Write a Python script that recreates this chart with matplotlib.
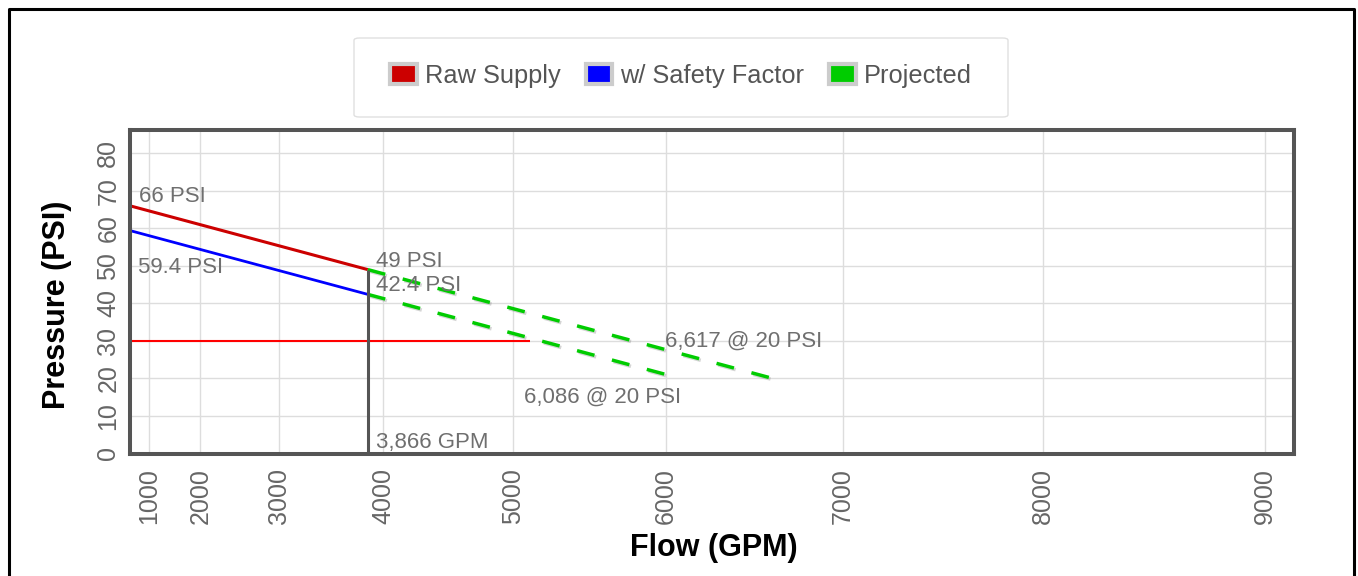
import numpy as np
import matplotlib
matplotlib.use("Agg")
import matplotlib.pyplot as plt
from matplotlib.patches import Patch, FancyBboxPatch
from matplotlib.lines import Line2D
import matplotlib.patheffects as pe

plt.rcParams['font.family'] = ['Liberation Sans', 'DejaVu Sans']

# Data
test_flow = [0, 3866]
raw_supply = [66, 49]
safety_supply = [59.4, 42.4]
proj_raw_flow = [3866, 6617]
proj_raw_psi = [49, 20]
proj_safe_flow = [3866, 6086]
proj_safe_psi = [42.4, 20]
demand_flow = [0, 5120]
demand_psi = [30, 30]
x_ticks = [1000, 2000, 3000, 4000, 5000, 6000, 7000, 8000, 9000]
y_ticks = [0, 10, 20, 30, 40, 50, 60, 70, 80]

# N^1.85 hydraulic scale
def fwd(q):
    q = np.asarray(q, dtype=float)
    return np.sign(q) * np.abs(q) ** 1.85

def inv(v):
    v = np.asarray(v, dtype=float)
    return np.sign(v) * np.abs(v) ** (1 / 1.85)

W, H = 1358, 576
fig = plt.figure(figsize=(W / 100, H / 100), dpi=100)
ax = fig.add_axes([130 / W, 1 - 453.5 / H, (1293.5 - 130) / W, (453.5 - 130) / H])
ax.set_xscale('function', functions=(fwd, inv))
ax.set_xlim(0, 9120)
ax.set_ylim(0, 86.2)

ax.grid(True, color='#dddddd', lw=1.0)
ax.set_axisbelow(True)
for s in ax.spines.values():
    s.set_color('#555555')
    s.set_linewidth(2.9)

ax.set_xticks(x_ticks)
ax.set_yticks(y_ticks)
ax.tick_params(axis='x', length=0, pad=10.4, labelsize=18, labelcolor='#666666', labelrotation=90)
ax.tick_params(axis='y', length=0, pad=7, labelsize=18, labelcolor='#666666', labelrotation=90)
for lab in ax.get_yticklabels():
    lab.set_va('center')

ax.set_xlabel('Flow (GPM)', fontsize=22, fontweight='bold')
ax.set_ylabel('Pressure (PSI)', fontsize=22, fontweight='bold')
ax.xaxis.set_label_coords((714 - 130) / 1163.5, (453.5 - 533) / 323.5)
ax.yaxis.set_label_coords((72 - 130) / 1163.5, (453.5 - 305) / 323.5)

shadow = [pe.SimpleLineShadow(offset=(1.2, -1.2), shadow_color='#888888', alpha=0.35), pe.Normal()]

ax.plot(test_flow, raw_supply, color='#cc0000', lw=2.2, solid_capstyle='butt')
ax.plot(test_flow, safety_supply, color='#0000ff', lw=2.0, solid_capstyle='butt')
ax.plot(proj_raw_flow, proj_raw_psi, color='#00cc00', lw=2.5, dashes=(5.2, 5.2),
        path_effects=shadow)
ax.plot(proj_safe_flow, proj_safe_psi, color='#00cc00', lw=2.5, dashes=(5.2, 5.2),
        path_effects=shadow)
ax.plot(demand_flow, demand_psi, color='#ff0000', lw=1.5, solid_capstyle='butt')
ax.plot([test_flow[1], test_flow[1]], [0, raw_supply[1]], color='#555555', lw=2.2,
        solid_capstyle='butt')

txt = dict(textcoords='offset points', ha='left', va='baseline', fontsize=16, color='#6f6f6f')
ax.annotate('66 PSI', xy=(test_flow[0], raw_supply[0]), xytext=(6.5, 2.9), **txt)
ax.annotate('59.4 PSI', xy=(test_flow[0], safety_supply[0]), xytext=(5.8, -30.7), **txt)
ax.annotate('49 PSI', xy=(test_flow[1], raw_supply[1]), xytext=(5.8, 2.2), **txt)
ax.annotate('42.4 PSI', xy=(test_flow[1], safety_supply[1]), xytext=(5.8, 2.2), **txt)
ax.annotate('6,617 @ 20 PSI', xy=(proj_raw_flow[1], proj_raw_psi[1]), xytext=(-77.8, 23), **txt)
ax.annotate('6,086 @ 20 PSI', xy=(proj_safe_flow[1], proj_safe_psi[1]), xytext=(-113, -17.3), **txt)
ax.annotate('3,866 GPM', xy=(test_flow[1], 0), xytext=(5.8, 4.3), **txt)

# legend box
box = FancyBboxPatch((354 / W, 1 - 117 / H), (1008 - 354) / W, 79 / H,
                     boxstyle='round,pad=0,rounding_size=0.004', transform=fig.transFigure,
                     facecolor='white', edgecolor='#e0e0e0', lw=1.0, zorder=0)
fig.patches.append(box)
handles = [Patch(facecolor='#cc0000', edgecolor='#cccccc', lw=3.0, label='Raw Supply'),
           Patch(facecolor='#0000ff', edgecolor='#cccccc', lw=3.0, label='w/ Safety Factor'),
           Patch(facecolor='#00cc00', edgecolor='#cccccc', lw=3.0, label='Projected')]
fig.legend(handles=handles, loc='center', bbox_to_anchor=(681 / W, 1 - 76 / H), ncol=3,
           frameon=False, fontsize=18.3, labelcolor='#555555', handlelength=1.05,
           handleheight=0.85, handletextpad=0.3, columnspacing=1.0)

# outer frame (no bottom edge)
fig.add_artist(Line2D([8.7 / W, 8.7 / W, 1354.3 / W, 1354.3 / W], [0, 1 - 8.7 / H, 1 - 8.7 / H, 0],
                      transform=fig.transFigure, color='black', lw=2.2))

fig.savefig('out.png', dpi=100)
